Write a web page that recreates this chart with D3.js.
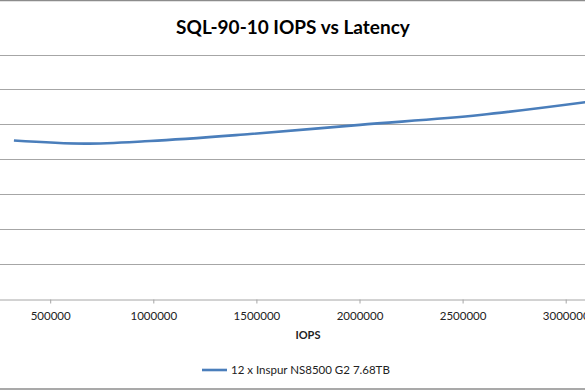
<!DOCTYPE html>
<html>
<head>
<meta charset="utf-8">
<script src="https://cdn.jsdelivr.net/npm/d3@7"></script>
<style>
html,body{margin:0;padding:0;background:#fff;overflow:hidden;}
svg{display:block;}
text{font-family:Lato, "Open Sans", sans-serif;}
</style>
</head>
<body>
<script>
const title = "SQL-90-10 IOPS vs Latency";
const xTitle = "IOPS";
const seriesName = "12 x Inspur NS8500 G2 7.68TB";
const iops = [324000, 668000, 984000, 1469000, 2002000, 2584000, 3166000];
const latency = [2.266, 2.222, 2.259, 2.359, 2.491, 2.632, 2.843];
const xTicks = [500000, 1000000, 1500000, 2000000, 2500000, 3000000];
const yTicks = [0, 0.5, 1, 1.5, 2, 2.5, 3, 3.5];

const W = 585, H = 390;
const svg = d3.select("body").append("svg").attr("width", W).attr("height", H);

// chart border
svg.append("line").attr("x1",0).attr("x2",W).attr("y1",0.5).attr("y2",0.5).attr("stroke","#8c8c8c").attr("stroke-width",1.5);
svg.append("line").attr("x1",0).attr("x2",W).attr("y1",389).attr("y2",389).attr("stroke","#8c8c8c").attr("stroke-width",1.5);

const x = d3.scaleLinear().domain([0, 3500000]).range([-52.9, 668.8]);
const y = d3.scaleLinear().domain([0, 3.5]).range([298.5, 54.5]);

// gridlines
svg.append("g").selectAll("line").data(yTicks.slice(1)).join("line")
  .attr("x1", x.range()[0]).attr("x2", x.range()[1])
  .attr("y1", d => Math.round(y(d)) + 0.5).attr("y2", d => Math.round(y(d)) + 0.5)
  .attr("stroke", "#a6a6a6").attr("stroke-width", 1);

// x axis
const xAxis = svg.append("g").attr("transform", `translate(0,${Math.round(y(0)) + 0.5})`)
  .call(d3.axisBottom(x).tickValues(xTicks).tickFormat(d3.format("d")).tickSize(4).tickSizeOuter(0).tickPadding(8));
xAxis.select(".domain").attr("stroke", "#a6a6a6");
xAxis.selectAll(".tick line").attr("stroke", "#a6a6a6");
xAxis.selectAll("text").attr("font-size", 11.5).attr("fill", "#222").attr("font-family", "Lato, sans-serif");

// line
const data = iops.map((v, i) => ({x: v, y: latency[i]}));
svg.append("path").datum(data)
  .attr("fill", "none").attr("stroke", "#4a7ebb").attr("stroke-width", 2.6)
  .attr("d", d3.line().x(d => x(d.x)).y(d => y(d.y)).curve(d3.curveMonotoneX));

// title
svg.append("text").attr("x", 293).attr("y", 34).attr("text-anchor", "middle")
  .attr("font-size", 19).attr("font-weight", "bold").attr("fill", "#000").text(title);

// x title
svg.append("text").attr("x", (x.range()[0] + x.range()[1]) / 2).attr("y", 339).attr("text-anchor", "middle")
  .attr("font-size", 11).attr("font-weight", "bold").attr("fill", "#222").text(xTitle);

// legend
svg.append("line").attr("x1", 202).attr("x2", 227).attr("y1", 370).attr("y2", 370)
  .attr("stroke", "#4a7ebb").attr("stroke-width", 2.6);
svg.append("text").attr("x", 231).attr("y", 374).attr("font-size", 11.5).attr("fill", "#222").text(seriesName);
</script>
</body>
</html>
